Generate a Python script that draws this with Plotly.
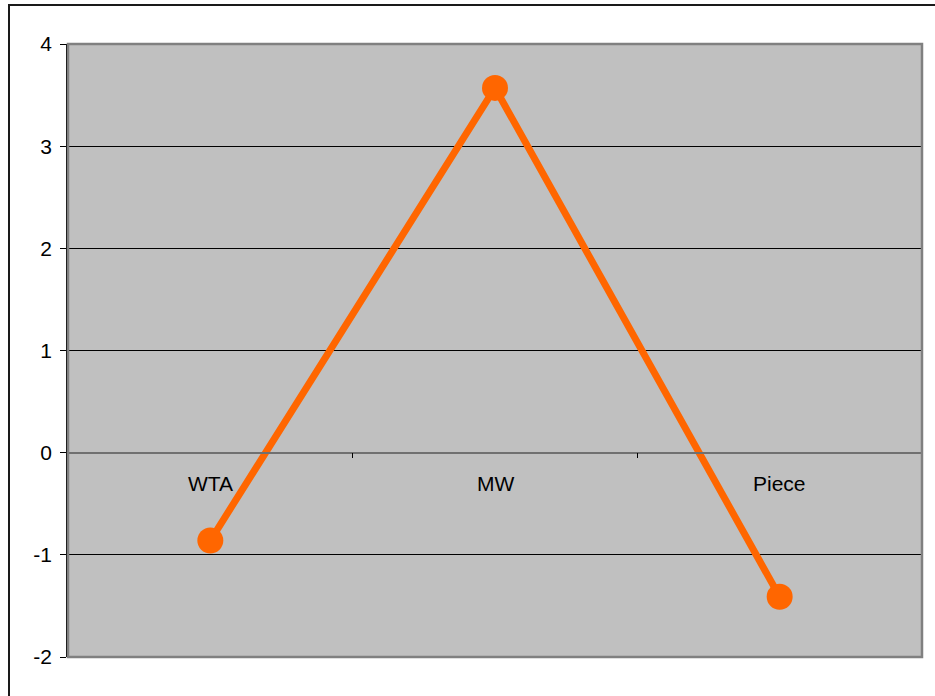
import plotly.graph_objects as go

# Scores per allocation rule
categories = ["WTA", "MW", "Piece"]
values = [-0.86, 3.57, -1.41]

y_ticks = [-2, -1, 0, 1, 2, 3, 4]
y_tick_labels = ["-2", "-1", "0", "1", "2", "3", "4"]

W, H = 935, 696
ML, MR, MT, MB = 68, 13, 44, 39
pw, ph = W - ML - MR, H - MT - MB

fig = go.Figure()
fig.add_trace(go.Scatter(
    x=categories, y=values, mode="lines+markers",
    line=dict(color="#FF6600", width=7),
    marker=dict(color="#FF6600", size=26),
    showlegend=False, cliponaxis=False,
))

# Category labels placed just under the zero line
for c in categories:
    fig.add_annotation(x=c, y=0, xref="x", yref="y", text=c, showarrow=False,
                       yshift=-31, font=dict(size=21, color="#000000"))

# Plot area frame (grey) and outer chart border
fig.add_shape(type="rect", xref="paper", yref="paper", x0=0, x1=1, y0=0, y1=1,
              line=dict(color="#808080", width=2.5), layer="above")
fig.add_shape(type="rect", xref="paper", yref="paper",
              x0=(9 - ML) / pw, x1=(W + 20 - ML) / pw,
              y0=-(H + 20 - MT - ph) / ph, y1=1 + (MT - 5) / ph,
              line=dict(color="#1a1a1a", width=2), layer="above")

zero_pos = (0 - y_ticks[0]) / (y_ticks[-1] - y_ticks[0])

fig.update_layout(
    width=W, height=H,
    margin=dict(l=ML, r=MR, t=MT, b=MB),
    paper_bgcolor="#FFFFFF", plot_bgcolor="#C0C0C0",
    font=dict(family="Liberation Sans, Arial, sans-serif", size=21, color="#000000"),
    xaxis=dict(type="category", range=[-0.5, 2.5], anchor="free", position=zero_pos,
               showgrid=False, zeroline=False, showline=True, linecolor="#707070",
               linewidth=1.5, ticks="outside", tickson="boundaries", ticklen=5,
               tickcolor="#000000", tickwidth=1, showticklabels=False),
    yaxis=dict(range=[y_ticks[0], y_ticks[-1]], tickvals=y_ticks, ticktext=y_tick_labels,
               showgrid=True, gridcolor="#000000", gridwidth=1, zeroline=False,
               showline=True, linecolor="#000000", linewidth=1.5,
               ticks="outside", ticklen=6, tickcolor="#000000",
               ticklabelstandoff=4, tickfont=dict(size=21)),
)

fig.write_html("out.html")
